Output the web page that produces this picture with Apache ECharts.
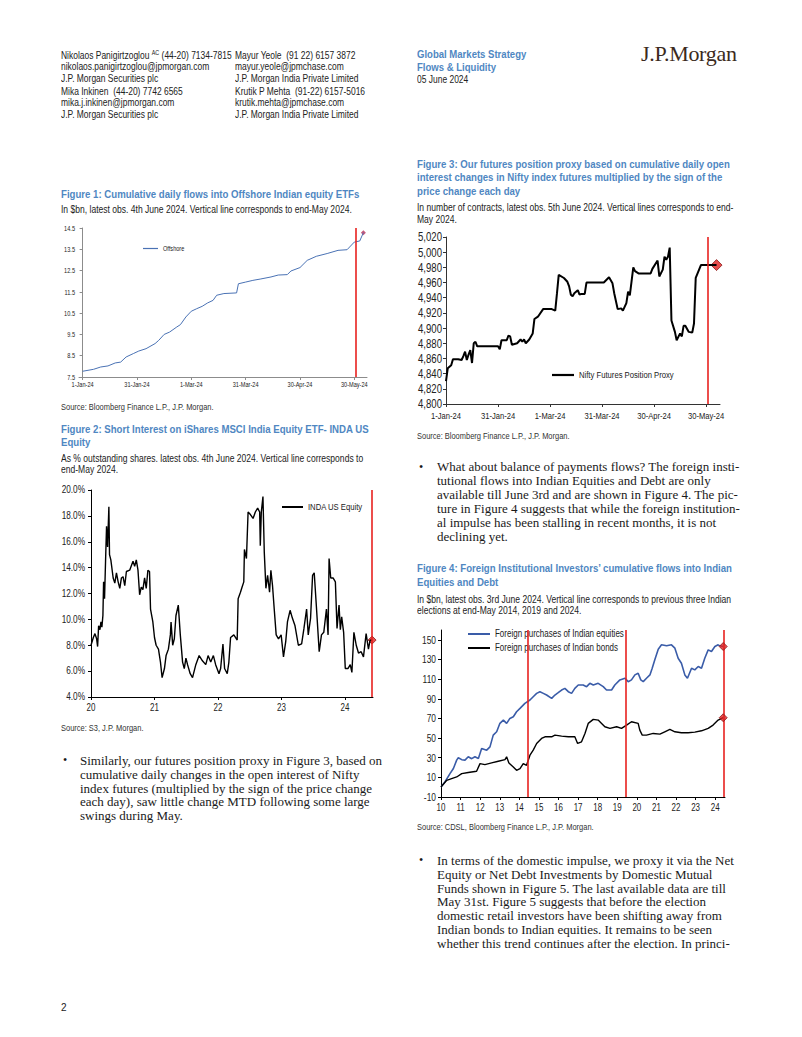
<!DOCTYPE html>
<html><head><meta charset="utf-8">
<script src="https://cdn.jsdelivr.net/npm/echarts@6/dist/echarts.min.js"></script>
<style>
html,body{margin:0;padding:0;background:#fff;}
#page{position:relative;width:802px;height:1037px;overflow:hidden;background:#fff;}
#chart{position:absolute;left:0;top:0;width:802px;height:1037px;}
.t{position:absolute;white-space:nowrap;font-family:"Liberation Sans",Arial,sans-serif;color:#222;transform:scaleX(0.83);transform-origin:0 0;}
.hd{font-size:10.2px;line-height:11px;}
.gm{font-size:11.5px;line-height:12px;font-weight:bold;color:#4f87c2;}
.logo{position:absolute;white-space:nowrap;font-family:"Liberation Serif","Times New Roman",serif;font-size:22px;line-height:24px;color:#3b2a20;letter-spacing:-0.3px;}
.ft{font-size:11.6px;line-height:13px;font-weight:bold;color:#4f87c2;}
.fs{font-size:10.3px;line-height:11px;color:#222;}
.src{font-size:9px;line-height:10px;color:#333;}
.b{position:absolute;white-space:nowrap;font-family:"Liberation Serif","Times New Roman",serif;font-size:13px;line-height:13.9px;color:#1a1a1a;}
.bul{position:absolute;font-family:"Liberation Serif",serif;font-size:12px;line-height:14px;color:#1a1a1a;}
sup{font-size:6.5px;line-height:0;vertical-align:4px;}
</style></head>
<body><div id="page">
<div id="chart"></div>

<div class="t hd" style="left:61px;top:49.5px;">Nikolaos Panigirtzoglou <sup>AC</sup> (44-20) 7134-7815</div>
<div class="t hd" style="left:61px;top:61.2px;">nikolaos.panigirtzoglou@jpmorgan.com</div>
<div class="t hd" style="left:61px;top:72.5px;">J.P. Morgan Securities plc</div>
<div class="t hd" style="left:61px;top:85.5px;">Mika Inkinen&nbsp; (44-20) 7742 6565</div>
<div class="t hd" style="left:61px;top:96.8px;">mika.j.inkinen@jpmorgan.com</div>
<div class="t hd" style="left:61px;top:108.5px;">J.P. Morgan Securities plc</div>

<div class="t hd" style="left:235px;top:49.5px;">Mayur Yeole&nbsp; (91 22) 6157 3872</div>
<div class="t hd" style="left:235px;top:61.2px;">mayur.yeole@jpmchase.com</div>
<div class="t hd" style="left:235px;top:72.5px;">J.P. Morgan India Private Limited</div>
<div class="t hd" style="left:235px;top:85.5px;">Krutik P Mehta&nbsp; (91-22) 6157-5016</div>
<div class="t hd" style="left:235px;top:96.8px;">krutik.mehta@jpmchase.com</div>
<div class="t hd" style="left:235px;top:108.5px;">J.P. Morgan India Private Limited</div>

<div class="t gm" style="left:417px;top:48px;">Global Markets Strategy</div>
<div class="t gm" style="left:417px;top:61.3px;">Flows &amp; Liquidity</div>
<div class="t hd" style="left:417px;top:73.8px;">05 June 2024</div>
<div class="logo" style="left:641px;top:42px;">J.P.Morgan</div>

<!-- Figure 1 -->
<div class="t ft" style="left:61px;top:186.8px;">Figure 1: Cumulative daily flows into Offshore Indian equity ETFs</div>
<div class="t fs" style="left:61px;top:203.8px;">In $bn, latest obs. 4th June 2024. Vertical line corresponds to end-May 2024.</div>
<div class="t src" style="left:61px;top:402px;">Source: Bloomberg Finance L.P., J.P. Morgan.</div>

<!-- Figure 2 -->
<div class="t ft" style="left:61px;top:421.5px;">Figure 2: Short Interest on iShares MSCI India Equity ETF- INDA US</div>
<div class="t ft" style="left:61px;top:434.5px;">Equity</div>
<div class="t fs" style="left:61px;top:452.8px;">As % outstanding shares. latest obs. 4th June 2024. Vertical line corresponds to</div>
<div class="t fs" style="left:61px;top:463.8px;">end-May 2024.</div>
<div class="t src" style="left:61px;top:722.7px;">Source: S3, J.P. Morgan.</div>

<!-- Figure 3 -->
<div class="t ft" style="left:417px;top:156.8px;">Figure 3: Our futures position proxy based on cumulative daily open</div>
<div class="t ft" style="left:417px;top:170.2px;">interest changes in Nifty index futures multiplied by the sign of the</div>
<div class="t ft" style="left:417px;top:183.5px;">price change each day</div>
<div class="t fs" style="left:417px;top:201.8px;">In number of contracts, latest obs. 5th June 2024. Vertical lines corresponds to end-</div>
<div class="t fs" style="left:417px;top:213.8px;">May 2024.</div>
<div class="t src" style="left:417px;top:431px;">Source: Bloomberg Finance L.P., J.P. Morgan.</div>

<!-- Figure 4 -->
<div class="t ft" style="left:417px;top:560.8px;">Figure 4: Foreign Institutional Investors’ cumulative flows into Indian</div>
<div class="t ft" style="left:417px;top:575.2px;">Equities and Debt</div>
<div class="t fs" style="left:417px;top:593.8px;">In $bn, latest obs. 3rd June 2024. Vertical line corresponds to previous three Indian</div>
<div class="t fs" style="left:417px;top:605.2px;">elections at end-May 2014, 2019 and 2024.</div>
<div class="t src" style="left:417px;top:821.7px;">Source: CDSL, Bloomberg Finance L.P., J.P. Morgan.</div>

<!-- Body text left -->
<div class="bul" style="left:63px;top:753px;">•</div>
<div class="b" style="left:80px;top:753.7px;">Similarly, our futures position proxy in Figure 3, based on<br>cumulative daily changes in the open interest of Nifty<br>index futures (multiplied by the sign of the price change<br>each day), saw little change MTD following some large<br>swings during May.</div>

<!-- Body text right 1 -->
<div class="bul" style="left:419px;top:460px;">•</div>
<div class="b" style="left:437px;top:460.3px;">What about balance of payments flows? The foreign insti-<br>tutional flows into Indian Equities and Debt are only<br>available till June 3rd and are shown in Figure 4. The pic-<br>ture in Figure 4 suggests that while the foreign institution-<br>al impulse has been stalling in recent months, it is not<br>declining yet.</div>

<!-- Body text right 2 -->
<div class="bul" style="left:419px;top:853px;">•</div>
<div class="b" style="left:437px;top:853.7px;">In terms of the domestic impulse, we proxy it via the Net<br>Equity or Net Debt Investments by Domestic Mutual<br>Funds shown in Figure 5. The last available data are till<br>May 31st. Figure 5 suggests that before the election<br>domestic retail investors have been shifting away from<br>Indian bonds to Indian equities. It remains to be seen<br>whether this trend continues after the election. In princi-</div>

<div style="position:absolute;left:61px;top:1002px;font-family:'Liberation Sans',sans-serif;font-size:10px;line-height:12px;color:#222;">2</div>
</div>

<script>
// ---------- DATA ----------
// Figure 1: cumulative flows ($bn), day index from 1-Jan-24
const fig1Days = [0,6,10,14,18,21,24,28,31,35,40,42,45,48,52,54,57,60,63,66,69,72,74,78,85,86,90,94,98,104,108,113,115,120,124,129,135,141,146,150,153,155];
const fig1Vals = [7.77,7.86,7.97,8.02,8.16,8.2,8.44,8.6,8.72,8.83,9.07,9.22,9.5,9.61,9.85,9.96,10.32,10.59,10.71,10.82,10.98,11.1,11.34,11.42,11.45,11.88,11.96,12.04,12.1,12.2,12.29,12.31,12.48,12.64,12.98,13.17,13.3,13.45,13.48,13.84,13.89,14.28];
const dateTickDays = [0,30,60,90,120,150];
const dateTickLabels = ['1-Jan-24','31-Jan-24','1-Mar-24','31-Mar-24','30-Apr-24','30-May-24'];
const fig1EndMay = 151;

// Figure 2: INDA short interest (%), months since Jan-2020
const fig2Months = [0,0.44,0.75,1.06,1.25,1.44,1.69,1.88,2.06,2.25,2.38,2.56,2.75,2.94,3.13,3.38,3.5,3.75,4.19,4.5,4.81,5.13,5.44,5.75,6.06,6.38,6.69,7.31,7.94,8.25,8.56,8.88,9.19,9.5,9.81,10.13,10.44,10.75,11.06,11.25,11.69,12,12.31,12.75,13.13,13.44,13.88,14.19,14.63,15,15.13,15.44,15.75,16.06,16.5,16.88,17.31,17.63,17.94,18.25,18.75,19.19,19.81,20.44,21.06,21.69,22.13,22.63,23.13,23.56,24.19,24.5,24.94,25.25,25.75,26.06,26.38,27,27.63,27.81,28.25,28.56,28.88,29,29.38,29.69,30.13,30.63,31.06,31.5,31.88,32,32.19,32.5,32.75,33.06,33.38,33.75,34,34.31,34.63,35,35.44,35.94,36.38,36.81,37.13,37.63,38.06,38.56,39.19,39.81,40.25,40.75,41.06,41.5,41.88,42.19,42.63,43.13,43.56,44,44.5,44.81,45,45.31,45.75,46.19,46.5,46.88,47.13,47.38,47.75,48.06,48.56,49,49.31,49.69,50.13,50.56,51.06,51.5,52,52.44,52.75,53.13];
const fig2Vals = [8.0,8.6,8.9,8.5,7.9,9.5,9.2,9.8,9.4,10.3,12.9,11.6,14.5,17.2,15.6,18.7,15.0,14.6,13.2,12.8,13.6,12.9,12.4,13.2,13.3,12.6,13.7,13.8,14.5,14.1,14.6,13.8,11.9,12.5,12.3,13.2,12.4,13.8,13.7,10.8,9.8,8.6,8.0,7.7,6.7,5.5,6.2,7.2,7.7,8.8,9.8,8.0,8.5,10.3,11.1,8.8,6.7,6.2,7.0,6.5,5.8,5.5,6.5,7.2,6.8,6.5,7.2,6.7,7.2,6.5,5.8,6.2,8.1,6.2,5.8,6.7,8.6,8.8,8.4,11.6,12.1,12.5,12.9,15.4,14.7,18.3,18.1,17.8,18.3,18.6,18.3,15.7,18.3,19.5,15.2,12.4,13.4,12.1,13.8,12.6,10.8,8.8,8.5,8.8,7.1,8.3,9.8,10.7,10.1,9.5,8.0,8.1,9.3,10.8,8.8,10.1,13.4,13.6,10.8,7.5,8.8,9.0,10.8,8.8,14.7,13.2,13.2,12.9,9.3,11.1,9.2,10.2,9.0,6.2,6.2,6.5,5.9,9.0,8.0,7.4,7.5,7.1,8.9,7.7,8.4,8.4];
const yearTickMonths2 = [0,12,24,36,48];
const yearTickLabels2 = ['20','21','22','23','24'];
const fig2EndMay = 53;

// Figure 3: Nifty futures position proxy (contracts), day index from 1-Jan-24
const fig3Days = [0,1,3,4,7,9,10,11,12,13,14,15,16,17,18,30,31,32,35,36,37,38,41,43,44,45,46,48,50,51,53,56,61,63,64,65,68,70,71,72,73,74,76,77,78,80,81,91,94,96,97,99,101,102,104,105,106,108,109,111,118,119,122,123,125,126,127,128,129,130,132,133,135,136,137,138,140,142,143,144,147,152,156];
const fig3Vals = [4830,4847,4851,4859,4859,4858,4863,4869,4858,4865,4871,4854,4880,4882,4876,4876,4872,4884,4884,4890,4889,4878,4880,4885,4882,4885,4880,4885,4893,4912,4915,4925,4925,4923,4946,4970,4966,4961,4955,4944,4942,4946,4950,4944,4945,4945,4960,4960,4967,4959,4946,4925,4926,4923,4933,4948,4943,4980,4975,4972,4972,4978,4989,4968,4977,4994,4990,4994,5006,4910,4895,4884,4893,4889,4903,4903,4895,4894,4906,4966,4983,4983,4983];
const fig3EndMay = 151;

// Figure 4: FII cumulative flows ($bn), months since Jan-2010
const fig4EqMonths = [0,2.4,5.5,7.6,9.6,10.6,12.7,14.7,16.7,18.8,20.8,22.9,24.9,28,30,32,34.1,36.1,38.2,40.2,42.2,44.3,46.3,48.4,51.4,54.5,56.5,58.6,60.6,62.7,64.7,67.8,69.8,71.8,73.9,75.9,78,80,82,84.1,87.1,89.2,91.2,93.3,96.3,99.4,101.4,104.5,106.5,109.6,112.7,114.7,116.7,118.8,120.8,122.4,123.9,125.9,128,129.4,131,133.1,135.1,138.2,141.2,143.3,145.3,147.3,149.4,151,153.5,155.5,157.6,159.6,161.6,163.7,165.7,167.8,169.8,170.8,172.9];
const fig4EqVals = [0.2,5.3,13.8,19,27.5,30,28,27.5,31,29,31,29.2,39.4,37.7,41,53,56.4,65,68.3,65,70,71.7,76.8,80.2,85.3,88.7,92.1,95.5,97.2,95.5,93.8,90.4,93.8,96.2,98.9,100.6,97.2,95.5,100.6,104,104,102.3,105.7,104,105.7,102.3,98.9,98.9,104,109.2,110.9,107.4,109.2,114.3,116,109.2,107.4,110.9,114.3,121.1,129.6,140.5,144.9,143.9,144.9,141.5,131.3,126.2,114.3,110.9,121.1,119.4,122.8,121.1,131.3,139.8,138.1,143.2,144.9,143.9,143.2];
const fig4BdMonths = [0,3.5,6.5,9.6,12.7,16.7,21.8,23.9,26.9,31,35.1,39.2,40.2,41.6,44.3,46.3,48.4,50.4,52.4,54.5,56.5,58.6,61.6,63.7,67.8,69.8,73.9,78,82,83.7,86.1,88.2,90.2,93.3,96.3,98.4,100.4,103.5,107.6,110.6,113.7,116.7,120.8,121.8,123.3,125.9,130,134.1,137.1,140.2,143.3,147.3,151.4,155.5,159.6,163.7,166.7,169.8,172.9];
const fig4BdVals = [0.2,7,8.7,10.4,13.8,14.9,16.2,24,23,24.7,26.4,28.1,30.9,24.7,20.6,17.2,18.9,24,22.3,32.6,37.7,44.5,49.6,51.3,51.3,53,52,51.3,51.3,44.5,46.2,54.7,64.9,69,68.3,64.9,61.5,59.8,61.5,59.8,63.2,66.6,64.9,58.1,53,53,54.7,54,56.4,58.8,56.4,55.4,55.4,56,57.4,59.8,63.2,68.3,70.7];
const yearTickMonths4 = [0,12,24,36,48,60,72,84,96,108,120,132,144,156,168];
const yearTickLabels4 = ['10','11','12','13','14','15','16','17','18','19','20','21','22','23','24'];
const fig4ElectionMonths = [53,113,173];
const fig4YTicks = [-10,10,30,50,70,90,110,130,150];

// ---------- CHART ----------
const FA = "'Liberation Sans',Arial,sans-serif";
const RED = '#e8211f';
const SQ = 0.8; // horizontal squeeze applied to chart text (narrow-font look)
const zip = (a, b) => a.map((x, i) => [x, b[i]]);
const last = (a, b) => [[a[a.length - 1], b[b.length - 1]]];
const vline = (xs) => ({
  silent: true, symbol: ['none', 'none'], label: {show: false},
  lineStyle: {color: RED, width: 1.6, type: 'solid'},
  emphasis: {disabled: true},
  data: xs.map(x => ({xAxis: x}))
});
function xAx(gi, min, max, ticks, labels, fs, col, margin) {
  return {
    type: 'value', gridIndex: gi, min: min, max: max,
    axisLine: {show: true, onZero: false, lineStyle: {color: col, width: 1}},
    axisTick: {show: true, length: 3, customValues: ticks, lineStyle: {color: col}},
    axisLabel: {customValues: ticks, formatter: v => labels[ticks.indexOf(v)], fontSize: fs, fontFamily: FA, color: '#222', margin: margin},
    splitLine: {show: false}
  };
}
function yAx(gi, min, max, ticks, fmt, fs, col, margin) {
  return {
    type: 'value', gridIndex: gi, min: min, max: max,
    axisLine: {show: true, lineStyle: {color: col, width: 1}},
    axisTick: {show: true, length: 3, customValues: ticks, lineStyle: {color: col}},
    axisLabel: {customValues: ticks, formatter: fmt, fontSize: fs, fontFamily: FA, color: '#222', margin: margin},
    splitLine: {show: false}
  };
}
const range = (a, b, s) => { const r = []; for (let v = a; v <= b + 1e-9; v += s) r.push(+v.toFixed(4)); return r; };

const option = {
  animation: false,
  backgroundColor: 'transparent',
  grid: [
    {left: 79, top: 228, width: 288, height: 149},
    {left: 91, top: 490, width: 282, height: 207},
    {left: 446, top: 237, width: 274, height: 167},
    {left: 441, top: 630, width: 284, height: 167}
  ],
  xAxis: [
    xAx(0, -2, 157, dateTickDays, dateTickLabels, 7, '#8c8c8c', 4),
    xAx(1, 0, 53.3, yearTickMonths2, yearTickLabels2, 10, '#000', 6),
    xAx(2, 0, 158, dateTickDays, dateTickLabels, 9.5, '#333', 7),
    xAx(3, 0, 174, yearTickMonths4, yearTickLabels4, 10, '#000', 6)
  ],
  yAxis: [
    yAx(0, 7.5, 14.5, range(7.5, 14.5, 1), v => v.toFixed(1), 7, '#8c8c8c', 4),
    yAx(1, 4, 20, range(4, 20, 2), v => v.toFixed(1) + '%', 10.3, '#000', 6),
    yAx(2, 4800, 5020, range(4800, 5020, 20), v => v.toLocaleString('en-US'), 12, '#333', 4),
    yAx(3, -10, 160, fig4YTicks, v => String(v), 10.5, '#000', 5)
  ],
  legend: [
    {data: ['Offshore'], left: 143, top: 245, icon: 'rect', itemWidth: 15, itemHeight: 1.2, padding: 0,
     textStyle: {fontSize: 7, fontFamily: FA, color: '#222'}, selectedMode: false},
    {data: ['INDA US Equity'], left: 282, top: 502, icon: 'rect', itemWidth: 21, itemHeight: 2, padding: 0,
     textStyle: {fontSize: 9.6, fontFamily: FA, color: '#222'}, selectedMode: false},
    {data: ['Nifty Futures Position Proxy'], left: 552, top: 370, icon: 'rect', itemWidth: 22, itemHeight: 2.2, padding: 0,
     textStyle: {fontSize: 9.6, fontFamily: FA, color: '#222'}, selectedMode: false},
    {data: ['Foreign purchases of Indian equities', 'Foreign purchases of Indian bonds'], left: 468, top: 629, padding: 0,
     orient: 'vertical', itemGap: 4, icon: 'rect', itemWidth: 22, itemHeight: 2,
     textStyle: {fontSize: 10, fontFamily: FA, color: '#222'}, selectedMode: false}
  ],
  series: [
    {name: 'Offshore', type: 'line', xAxisIndex: 0, yAxisIndex: 0, data: zip(fig1Days, fig1Vals),
     symbol: 'none', lineStyle: {color: '#4a72b4', width: 1}, itemStyle: {color: '#4a72b4'}, markLine: vline([fig1EndMay])},
    {name: 'f1end', type: 'scatter', xAxisIndex: 0, yAxisIndex: 0, data: last(fig1Days, fig1Vals),
     symbol: 'diamond', symbolSize: 5, itemStyle: {color: '#b8305a'}},

    {name: 'INDA US Equity', type: 'line', xAxisIndex: 1, yAxisIndex: 1, data: zip(fig2Months, fig2Vals),
     symbol: 'none', lineStyle: {color: '#000', width: 1.4}, itemStyle: {color: '#000'}, markLine: vline([fig2EndMay])},
    {name: 'f2end', type: 'scatter', xAxisIndex: 1, yAxisIndex: 1, data: last(fig2Months, fig2Vals),
     symbol: 'diamond', symbolSize: 8, itemStyle: {color: '#e02222', borderColor: '#8b1a1a', borderWidth: 1}},

    {name: 'Nifty Futures Position Proxy', type: 'line', xAxisIndex: 2, yAxisIndex: 2, data: zip(fig3Days, fig3Vals),
     symbol: 'none', lineStyle: {color: '#000', width: 2}, itemStyle: {color: '#000'}, markLine: vline([fig3EndMay])},
    {name: 'f3end', type: 'scatter', xAxisIndex: 2, yAxisIndex: 2, data: last(fig3Days, fig3Vals),
     symbol: 'diamond', symbolSize: 11, itemStyle: {color: '#e02222', borderColor: '#8b1a1a', borderWidth: 1}},

    {name: 'Foreign purchases of Indian equities', type: 'line', xAxisIndex: 3, yAxisIndex: 3, data: zip(fig4EqMonths, fig4EqVals),
     symbol: 'none', lineStyle: {color: '#3a5ca8', width: 1.6}, itemStyle: {color: '#3a5ca8'}, z: 2},
    {name: 'Foreign purchases of Indian bonds', type: 'line', xAxisIndex: 3, yAxisIndex: 3, data: zip(fig4BdMonths, fig4BdVals),
     symbol: 'none', lineStyle: {color: '#000', width: 1.4}, itemStyle: {color: '#000'}, z: 2},
    {name: 'f4lines', type: 'line', xAxisIndex: 3, yAxisIndex: 3, data: [], markLine: vline(fig4ElectionMonths), z: 5},
    {name: 'f4end', type: 'scatter', xAxisIndex: 3, yAxisIndex: 3,
     data: last(fig4EqMonths, fig4EqVals).concat(last(fig4BdMonths, fig4BdVals)),
     symbol: 'diamond', symbolSize: 8, itemStyle: {color: '#e02222', borderColor: '#8b1a1a', borderWidth: 1}, z: 6}
  ]
};
const chart = echarts.init(document.getElementById('chart'), null, {renderer: 'svg'});
// squeeze chart text horizontally about its own anchor to mimic the narrow font of the original
function squeeze() {
  document.querySelectorAll('#chart svg text').forEach(t => {
    if (t.getAttribute('data-sq')) return;
    const x = parseFloat(t.getAttribute('x') || 0), y = parseFloat(t.getAttribute('y') || 0);
    const tr = t.getAttribute('transform') || '';
    t.setAttribute('transform', (tr + ' translate(' + x + ' ' + y + ') scale(' + SQ + ' 1) translate(' + (-x) + ' ' + (-y) + ')').trim());
    t.setAttribute('data-sq', '1');
  });
}
chart.on('finished', squeeze);
chart.setOption(option);
squeeze();
setTimeout(squeeze, 30);
setTimeout(squeeze, 200);
</script>
</body></html>
